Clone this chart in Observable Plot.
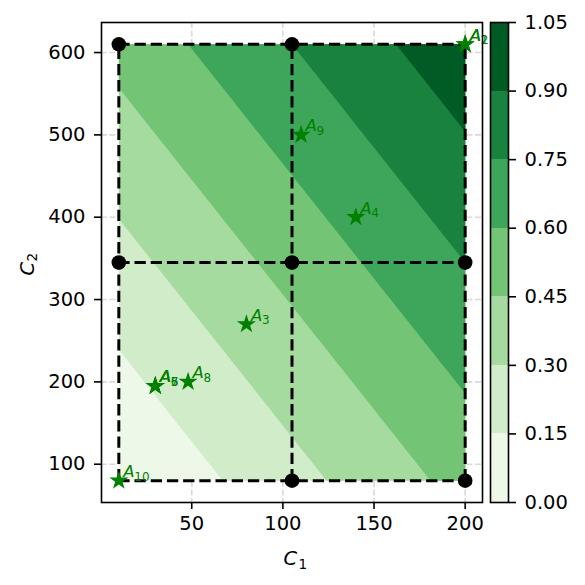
<!DOCTYPE html>
<html>
<head>
<meta charset="utf-8">
<script src="https://cdn.jsdelivr.net/npm/d3@7"></script>
<script src="https://cdn.jsdelivr.net/npm/@observablehq/plot@0.6"></script>
<style>
  html, body { margin: 0; padding: 0; background: white; }
  #wrap { width: 585px; height: 585px; display: flex; flex-direction: row; font-family: "DejaVu Sans", sans-serif; }
  #wrap svg { display: block; overflow: hidden; }
</style>
</head>
<body>
<div id="wrap"></div>
<script>
// ---- data ----
const gridC1 = [10, 105, 200];
const gridC2 = [80, 345, 610];
// score at each grid node: rows = C2 (80, 345, 610), cols = C1 (10, 105, 200)
const nodeScores = [
  [0.00, 0.25, 0.50],
  [0.25, 0.50, 0.75],
  [0.50, 0.75, 1.00]
];
// black markers at grid nodes
const nodeDotC1 = [10, 105, 10, 105, 200, 105, 200];
const nodeDotC2 = [610, 610, 345, 345, 345, 80, 80];
// alternatives
const altNames = ["1", "2", "3", "4", "5", "6", "7", "8", "9", "10"];
const altC1 = [200, 200, 80, 140, 30, 30, 30, 48, 110, 10];
const altC2 = [610, 610, 270, 400, 195, 195, 195, 200, 500, 80];
// contour levels & colors
const levels = [0, 0.15, 0.30, 0.45, 0.60, 0.75, 0.90, 1.05];
const bandColors = ["#edf8e9", "#d0ecc9", "#a6dba0", "#74c476", "#3da65a", "#19823e", "#005b25"];
const xTicks = [50, 100, 150, 200];
const yTicks = [100, 200, 300, 400, 500, 600];

// ---- tables built from the arrays ----
const field = [];
gridC2.forEach((c2, j) => gridC1.forEach((c1, i) => field.push({c1, c2, v: nodeScores[j][i]})));
const nodes = nodeDotC1.map((c1, i) => ({c1, c2: nodeDotC2[i]}));
const alts = altNames.map((n, i) => ({name: n, c1: altC1[i], c2: altC2[i]}));
const bands = levels.slice(0, -1).map((lo, i) => ({lo, hi: levels[i + 1]}));

const colorScale = {type: "threshold", domain: levels.slice(1, -1), range: bandColors};
const FS = 19.5;
const gridStyle = {stroke: "#d9d9d9", strokeOpacity: 1, strokeWidth: 1.6, strokeDasharray: "5.9,2.6"};
const dashStyle = {stroke: "black", strokeWidth: 3, strokeDasharray: "11.3,4.9"};

const main = Plot.plot({
  width: 489, height: 585,
  marginLeft: 101, marginRight: 7, marginTop: 22, marginBottom: 83,
  style: {fontFamily: "DejaVu Sans", fontSize: FS + "px", background: "white"},
  x: {domain: [0.5, 209.5]},
  y: {domain: [53.5, 636.5]},
  color: colorScale,
  marks: [
    Plot.gridX(xTicks, gridStyle),
    Plot.gridY(yTicks, gridStyle),
    Plot.contour(field, {
      x: "c1", y: "c2", fill: "v",
      interpolate: "barycentric",
      x1: 10, x2: 200, y1: 80, y2: 610,
      thresholds: levels.slice(0, -1),
      stroke: "none"
    }),
    Plot.ruleX(gridC1, {y1: 80, y2: 610, ...dashStyle}),
    Plot.ruleY(gridC2, {x1: 10, x2: 200, ...dashStyle}),
    Plot.dot(nodes, {x: "c1", y: "c2", r: 7.3, fill: "black"}),
    Plot.dot(alts, {x: "c1", y: "c2", symbol: "star", r: 6, fill: "green"}),
    Plot.text(alts, {x: "c1", y: "c2", text: () => "A", fontStyle: "italic", fontSize: 16.5,
      fill: "green", textAnchor: "start", lineAnchor: "bottom", dx: 4.5, dy: -3.5}),
    Plot.text(alts, {x: "c1", y: "c2", text: "name", fontSize: 12,
      fill: "green", textAnchor: "start", lineAnchor: "bottom", dx: 15.5, dy: 0}),
    Plot.frame({stroke: "black", strokeWidth: 1.6}),
    Plot.axisX(xTicks, {tickSize: 7, tickPadding: 7, fontSize: FS, strokeWidth: 1.6, label: null}),
    Plot.axisY(yTicks, {tickSize: 7, tickPadding: 9, fontSize: FS, strokeWidth: 1.6, label: null}),
    // axis titles
    Plot.text(["C"], {frameAnchor: "bottom", text: d => d, fontStyle: "italic", fontSize: FS,
      textAnchor: "start", lineAnchor: "bottom", dx: -8.5, dy: 62}),
    Plot.text(["1"], {frameAnchor: "bottom", text: d => d, fontSize: 13.6,
      textAnchor: "start", lineAnchor: "bottom", dx: 6.5, dy: 66}),
    Plot.text(["C"], {frameAnchor: "left", text: d => d, fontStyle: "italic", fontSize: FS, rotate: -90,
      textAnchor: "start", lineAnchor: "bottom", dx: -68, dy: 13}),
    Plot.text(["2"], {frameAnchor: "left", text: d => d, fontSize: 13.6, rotate: -90,
      textAnchor: "start", lineAnchor: "bottom", dx: -65, dy: -1})
  ]
});

const cbar = Plot.plot({
  width: 96, height: 585,
  marginLeft: 1, marginRight: 77, marginTop: 22, marginBottom: 83,
  style: {fontFamily: "DejaVu Sans", fontSize: FS + "px", background: "white"},
  x: {domain: [0, 1], axis: null},
  y: {domain: [0, 1.05], axis: null},
  color: colorScale,
  marks: [
    Plot.rect(bands, {x1: 0, x2: 1, y1: "lo", y2: "hi", fill: "lo", shapeRendering: "crispEdges"}),
    Plot.frame({stroke: "black", strokeWidth: 1.6}),
    Plot.axisY(levels, {anchor: "right", tickFormat: d3.format(".2f"), tickSize: 7, tickPadding: 9,
      fontSize: FS, strokeWidth: 1.6, label: null})
  ]
});

const wrap = document.getElementById("wrap");
wrap.appendChild(main);
wrap.appendChild(cbar);
</script>
</body>
</html>
